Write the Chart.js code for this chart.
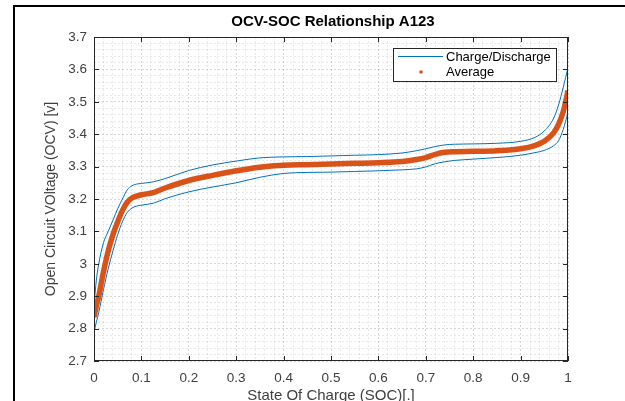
<!DOCTYPE html>
<html lang="en">
<head>
  <meta charset="UTF-8">
  <title>OCV-SOC Relationship A123</title>
  <script src="https://cdn.jsdelivr.net/npm/chart.js"></script>
  <style>
    html, body {
      margin: 0;
      padding: 0;
      background: #fff;
    }
    #wrap {
      width: 625px;
      height: 401px;
    }
  </style>
</head>
<body>
  <div id="wrap"><canvas id="chart" width="625" height="401"></canvas></div>

  <script>
    const chartTitle = 'OCV-SOC Relationship A123';
    const xTitle = 'State Of Charge (SOC)[.]';
    const yTitle = 'Open Circuit VOltage (OCV) [v]';

    // state of charge, shared by all series
    const soc = [0, 0.005, 0.01, 0.02, 0.03, 0.04, 0.05, 0.06, 0.07, 0.08, 0.09, 0.1, 0.125, 0.15, 0.2,
      0.25, 0.3, 0.35, 0.4, 0.45, 0.5, 0.55, 0.6, 0.65, 0.68, 0.7, 0.72, 0.74, 0.76, 0.8, 0.85, 0.9,
      0.93, 0.95, 0.97, 0.98, 0.99, 0.995, 1];

    const ocvUpper = [2.87, 2.95, 3.0, 3.065, 3.1, 3.135, 3.17, 3.2, 3.228, 3.241, 3.246, 3.248, 3.253, 3.263, 3.288,
      3.305, 3.317, 3.327, 3.33, 3.331, 3.333, 3.335, 3.337, 3.342, 3.349, 3.355, 3.362, 3.367, 3.369, 3.37, 3.372, 3.378,
      3.39, 3.41, 3.45, 3.49, 3.545, 3.575, 3.605];

    const ocvLower = [2.79, 2.82, 2.85, 2.92, 2.985, 3.04, 3.09, 3.13, 3.158, 3.172, 3.178, 3.181, 3.187, 3.201, 3.222,
      3.237, 3.25, 3.267, 3.279, 3.282, 3.283, 3.285, 3.287, 3.29, 3.293, 3.299, 3.309, 3.315, 3.319, 3.323, 3.328, 3.335,
      3.343, 3.35, 3.365, 3.38, 3.415, 3.44, 3.47];

    const ocvAverage = [2.835, 2.87, 2.9, 2.975, 3.04, 3.09, 3.13, 3.165, 3.19, 3.203, 3.209, 3.213, 3.22, 3.234, 3.257,
      3.273, 3.287, 3.298, 3.304, 3.306, 3.308, 3.31, 3.312, 3.316, 3.322, 3.328, 3.338, 3.344, 3.346, 3.347, 3.349, 3.355,
      3.365, 3.378, 3.405, 3.43, 3.47, 3.5, 3.535];

    const xTicks = [0, 0.1, 0.2, 0.3, 0.4, 0.5, 0.6, 0.7, 0.8, 0.9, 1];
    const xTickLabels = ['0', '0.1', '0.2', '0.3', '0.4', '0.5', '0.6', '0.7', '0.8', '0.9', '1'];
    const yTicks = [2.7, 2.8, 2.9, 3, 3.1, 3.2, 3.3, 3.4, 3.5, 3.6, 3.7];
    const yTickLabels = ['2.7', '2.8', '2.9', '3', '3.1', '3.2', '3.3', '3.4', '3.5', '3.6', '3.7'];

    const blue = '#0072BD';
    const orange = '#D95319';
    const axisGray = '#262626';
    const fontFamily = "'Liberation Sans', Arial, sans-serif";

    const majorIndex = (list, v) => list.findIndex(m => Math.abs(m - v) < 1e-6);
    const points = (ys) => soc.map((x, i) => ({x: x, y: ys[i]}));

    const gridColor = (list) => (ctx) => {
      if (!ctx.tick) return 'rgba(0,0,0,0.09)';
      return majorIndex(list, ctx.tick.value) >= 0 ? 'rgba(0,0,0,0.16)' : 'rgba(0,0,0,0.09)';
    };

    // matlab style decorations: figure edge, axes box, inner ticks, title, legend
    const matlabFrame = {
      id: 'matlabFrame',
      afterDraw(chart) {
        const {ctx, chartArea: a, scales} = chart;
        const line = (x1, y1, x2, y2) => {
          ctx.beginPath();
          ctx.moveTo(x1, y1);
          ctx.lineTo(x2, y2);
          ctx.stroke();
        };
        ctx.save();

        ctx.strokeStyle = '#000';
        ctx.lineWidth = 2;
        ctx.beginPath();
        ctx.moveTo(14, chart.height);
        ctx.lineTo(14, 6);
        ctx.lineTo(chart.width, 6);
        ctx.stroke();

        ctx.strokeStyle = axisGray;
        ctx.lineWidth = 1;
        ctx.strokeRect(a.left + 0.5, a.top + 0.5, a.width - 1, a.height - 1);

        xTicks.forEach(v => {
          const px = Math.round(scales.x.getPixelForValue(v)) + 0.5;
          line(px, a.bottom, px, a.bottom - 5);
          line(px, a.top, px, a.top + 5);
        });
        yTicks.forEach(v => {
          const py = Math.round(scales.y.getPixelForValue(v)) + 0.5;
          line(a.left, py, a.left + 5, py);
          line(a.right, py, a.right - 5, py);
        });

        ctx.fillStyle = '#000';
        ctx.font = 'bold 15px ' + fontFamily;
        ctx.textAlign = 'center';
        ctx.textBaseline = 'middle';
        ctx.fillText(chartTitle, (a.left + a.right) / 2 + 2, 22);

        // legend box
        const lx = a.right - 175, ly = a.top + 11, lw = 163, lh = 33;
        ctx.fillStyle = '#fff';
        ctx.fillRect(lx, ly, lw, lh);
        ctx.strokeStyle = axisGray;
        ctx.lineWidth = 1;
        ctx.strokeRect(lx + 0.5, ly + 0.5, lw, lh);

        ctx.strokeStyle = blue;
        ctx.lineWidth = 1;
        line(lx + 5, ly + 8.5, lx + 50, ly + 8.5);
        ctx.fillStyle = orange;
        ctx.beginPath();
        ctx.arc(lx + 28, ly + 24, 1.8, 0, Math.PI * 2);
        ctx.fill();

        ctx.fillStyle = '#000';
        ctx.font = '13px ' + fontFamily;
        ctx.textAlign = 'left';
        ctx.fillText('Charge/Discharge', lx + 53, ly + 9);
        ctx.fillText('Average', lx + 53, ly + 24);

        ctx.restore();
      }
    };

    const config = {
      type: 'line',
      data: {
        datasets: [
          {
            label: 'Average',
            data: points(ocvAverage),
            borderColor: orange,
            borderWidth: 5.5,
            pointRadius: 0,
            cubicInterpolationMode: 'monotone'
          },
          {
            label: 'Charge/Discharge',
            data: points(ocvUpper),
            borderColor: blue,
            borderWidth: 1,
            pointRadius: 0,
            cubicInterpolationMode: 'monotone'
          },
          {
            label: 'Charge/Discharge',
            data: points(ocvLower),
            borderColor: blue,
            borderWidth: 1,
            pointRadius: 0,
            cubicInterpolationMode: 'monotone'
          }
        ]
      },
      options: {
        responsive: false,
        animation: false,
        devicePixelRatio: 1,
        layout: {padding: {left: 0, right: 57, top: 37, bottom: 0}},
        plugins: {
          legend: {display: false},
          tooltip: {enabled: false}
        },
        scales: {
          x: {
            type: 'linear',
            min: 0,
            max: 1,
            afterFit(scale) { scale.height = 40; },
            border: {display: false, dash: [2, 2]},
            grid: {color: gridColor(xTicks), drawTicks: false, lineWidth: 1},
            ticks: {
              stepSize: 0.02,
              maxTicksLimit: 100,
              autoSkip: false,
              maxRotation: 0,
              padding: 9,
              color: '#404040',
              font: {family: fontFamily, size: 13.5},
              callback: (v) => {
                const i = majorIndex(xTicks, v);
                return i >= 0 ? xTickLabels[i] : '';
              }
            },
            title: {
              display: true,
              text: xTitle,
              color: '#404040',
              font: {family: fontFamily, size: 15, lineHeight: 1},
              padding: {top: 0, bottom: -2}
            }
          },
          y: {
            type: 'linear',
            min: 2.7,
            max: 3.7,
            afterFit(scale) { scale.width = 94; },
            border: {display: false, dash: [2, 2]},
            grid: {color: gridColor(yTicks), drawTicks: false, lineWidth: 1},
            ticks: {
              stepSize: 0.02,
              maxTicksLimit: 100,
              autoSkip: false,
              padding: 7,
              color: '#404040',
              font: {family: fontFamily, size: 13.5},
              callback: (v) => {
                const i = majorIndex(yTicks, v);
                return i >= 0 ? yTickLabels[i] : '';
              }
            },
            title: {
              display: true,
              text: yTitle,
              color: '#404040',
              font: {family: fontFamily, size: 14},
              padding: {top: 43, bottom: 0}
            }
          }
        }
      },
      plugins: [matlabFrame]
    };

    new Chart(document.getElementById('chart').getContext('2d'), config);
  </script>
</body>
</html>
